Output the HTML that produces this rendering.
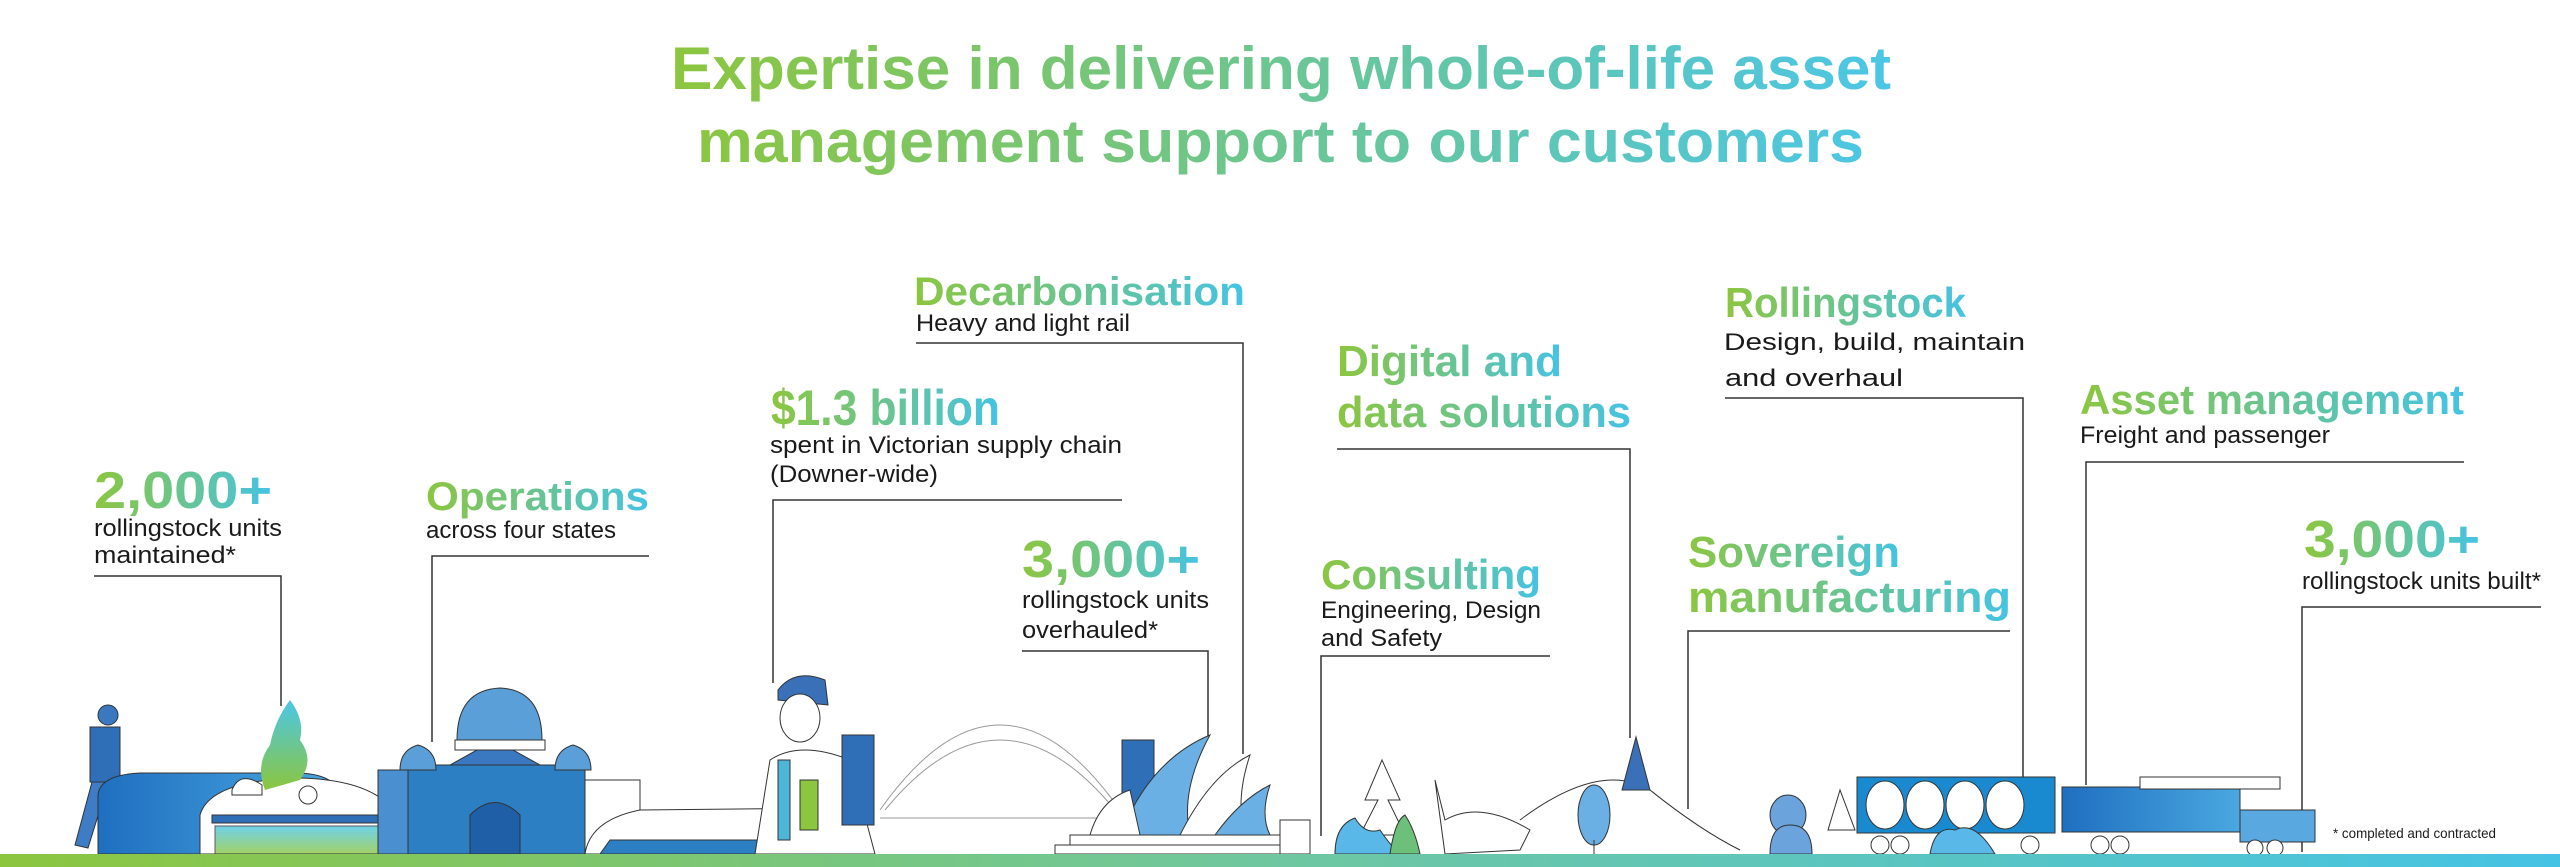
<!DOCTYPE html>
<html><head><meta charset="utf-8"><style>
html,body{margin:0;padding:0;background:#fff;}
svg{display:block;}
text{font-family:"Liberation Sans",sans-serif;}
.h{font-weight:bold;fill:url(#g);}
.s{font-size:24px;fill:#1a1a1a;}
</style></head><body>
<svg width="2560" height="867" viewBox="0 0 2560 867" xmlns="http://www.w3.org/2000/svg">
<defs>
<linearGradient id="g" x1="0" y1="0" x2="1" y2="0" gradientUnits="objectBoundingBox"><stop offset="0" stop-color="#8cc63f"/><stop offset="1" stop-color="#45c3e4"/></linearGradient>
<linearGradient id="t1" x1="671" y1="0" x2="1891" y2="0" gradientUnits="userSpaceOnUse"><stop offset="0" stop-color="#8cc63f"/><stop offset="1" stop-color="#4bc6e6"/></linearGradient>
<linearGradient id="bar" x1="0" y1="0" x2="2560" y2="0" gradientUnits="userSpaceOnUse"><stop offset="0" stop-color="#8cc63f"/><stop offset="0.5" stop-color="#6ec7a0"/><stop offset="1" stop-color="#45c3e4"/></linearGradient>
<linearGradient id="bl" x1="0" y1="0" x2="1" y2="0"><stop offset="0" stop-color="#1f6fc0"/><stop offset="1" stop-color="#4aa8e0"/></linearGradient>
<linearGradient id="tr" x1="0" y1="0" x2="0" y2="1"><stop offset="0" stop-color="#4bc6e6"/><stop offset="1" stop-color="#8cc63f"/></linearGradient>
</defs>

<!-- title -->
<text x="671" y="89" font-size="60" font-weight="bold" fill="url(#t1)" textLength="1220" lengthAdjust="spacingAndGlyphs">Expertise in delivering whole-of-life asset</text>
<text x="697" y="162" font-size="60" font-weight="bold" fill="url(#t1)" textLength="1167" lengthAdjust="spacingAndGlyphs">management support to our customers</text>

<!-- connector lines -->
<g stroke="#333" stroke-width="1.5" fill="none">
<polyline points="94,576 281,576 281,706"/>
<polyline points="649,556 432,556 432,742"/>
<polyline points="916,343 1243,343 1243,754"/>
<polyline points="1122,500 773,500 773,683"/>
<polyline points="1022,651 1208,651 1208,738"/>
<polyline points="1337,449 1630,449 1630,738"/>
<polyline points="1725,398 2023,398 2023,777"/>
<polyline points="2464,462 2086,462 2086,785"/>
<polyline points="2541,607 2302,607 2302,852"/>
<polyline points="1550,656 1321,656 1321,836"/>
<polyline points="2010,631 1688,631 1688,809"/>
</g>

<!-- headings -->
<text class="h" x="94" y="508" font-size="52" textLength="178" lengthAdjust="spacingAndGlyphs">2,000+</text>
<text class="h" x="426" y="510" font-size="40" textLength="223" lengthAdjust="spacingAndGlyphs">Operations</text>
<text class="h" x="914" y="305" font-size="40" textLength="331" lengthAdjust="spacingAndGlyphs">Decarbonisation</text>
<text class="h" x="771" y="425" font-size="50" textLength="229" lengthAdjust="spacingAndGlyphs">$1.3 billion</text>
<text class="h" x="1022" y="577" font-size="52" textLength="178" lengthAdjust="spacingAndGlyphs">3,000+</text>
<text class="h" x="1337" y="376" font-size="44" textLength="225" lengthAdjust="spacingAndGlyphs">Digital and</text>
<text class="h" x="1337" y="427" font-size="44" textLength="294" lengthAdjust="spacingAndGlyphs">data solutions</text>
<text class="h" x="1725" y="317" font-size="42" textLength="241" lengthAdjust="spacingAndGlyphs">Rollingstock</text>
<text class="h" x="2080" y="414" font-size="42" textLength="384" lengthAdjust="spacingAndGlyphs">Asset management</text>
<text class="h" x="2304" y="557" font-size="52" textLength="176" lengthAdjust="spacingAndGlyphs">3,000+</text>
<text class="h" x="1321" y="589" font-size="42" textLength="220" lengthAdjust="spacingAndGlyphs">Consulting</text>
<text class="h" x="1688" y="567" font-size="44" textLength="212" lengthAdjust="spacingAndGlyphs">Sovereign</text>
<text class="h" x="1688" y="612" font-size="44" textLength="323" lengthAdjust="spacingAndGlyphs">manufacturing</text>

<!-- subtexts -->
<text class="s" x="94" y="536" textLength="188" lengthAdjust="spacingAndGlyphs">rollingstock units</text>
<text class="s" x="94" y="563" textLength="142" lengthAdjust="spacingAndGlyphs">maintained*</text>
<text class="s" x="426" y="538" textLength="190" lengthAdjust="spacingAndGlyphs">across four states</text>
<text class="s" x="916" y="331" textLength="214" lengthAdjust="spacingAndGlyphs">Heavy and light rail</text>
<text class="s" x="770" y="453" textLength="352" lengthAdjust="spacingAndGlyphs">spent in Victorian supply chain</text>
<text class="s" x="770" y="482" textLength="168" lengthAdjust="spacingAndGlyphs">(Downer-wide)</text>
<text class="s" x="1022" y="608" textLength="187" lengthAdjust="spacingAndGlyphs">rollingstock units</text>
<text class="s" x="1022" y="638" textLength="136" lengthAdjust="spacingAndGlyphs">overhauled*</text>
<text class="s" x="1724" y="350" textLength="301" lengthAdjust="spacingAndGlyphs">Design, build, maintain</text>
<text class="s" x="1725" y="386" textLength="178" lengthAdjust="spacingAndGlyphs">and overhaul</text>
<text class="s" x="2080" y="443" textLength="250" lengthAdjust="spacingAndGlyphs">Freight and passenger</text>
<text class="s" x="2302" y="589" textLength="239" lengthAdjust="spacingAndGlyphs">rollingstock units built*</text>
<text class="s" x="1321" y="618" textLength="220" lengthAdjust="spacingAndGlyphs">Engineering, Design</text>
<text class="s" x="1321" y="646" textLength="121" lengthAdjust="spacingAndGlyphs">and Safety</text>
<text x="2333" y="838" font-size="14" fill="#1a1a1a" textLength="163" lengthAdjust="spacingAndGlyphs">* completed and contracted</text>

<!-- illustrations (approximate) -->
<g stroke="#333" stroke-width="1">
<!-- man -->
<circle cx="108" cy="715" r="10" fill="#3a78c0"/>
<rect x="90" y="727" width="30" height="55" fill="#2f6fb8"/>
<path d="M92 782 L75 845 L88 848 L106 790 L118 848 L132 845 L120 782 Z" fill="#3e7cc6"/>
<!-- station tunnel train -->
<path d="M98 854 L98 795 Q100 775 140 773 L300 773 Q340 775 340 800 L340 854 Z" fill="url(#bl)"/>
<path d="M200 854 L200 815 Q210 780 300 778 Q380 780 400 820 L405 854 Z" fill="#fff"/>
<rect x="212" y="815" width="180" height="8" fill="#2f6fb8"/>
<path d="M215 826 L390 826 L400 854 L215 854 Z" fill="url(#tr)" opacity="0.8"/>
<circle cx="308" cy="795" r="9" fill="#fff"/>
<!-- tree -->
<path d="M290 700 Q305 720 300 740 Q315 760 300 780 L265 790 Q255 765 270 745 Q275 720 290 700 Z" fill="url(#tr)" stroke="none"/>
<path d="M232 790 Q240 770 262 785 L262 795 L232 795 Z" fill="#fff"/>
<!-- station building -->
<rect x="405" y="765" width="180" height="89" fill="#2d7fc4"/>
<path d="M450 765 L495 740 L540 765 Z" fill="#3a78c0"/>
<path d="M457 740 Q457 690 500 688 Q542 690 542 740 Z" fill="#5a9fd8"/>
<rect x="455" y="740" width="90" height="10" fill="#fff"/>
<rect x="378" y="770" width="30" height="84" fill="#4a90d0"/>
<rect x="585" y="780" width="55" height="74" fill="#fff"/>
<path d="M400 770 Q400 750 418 745 Q436 750 436 770 Z" fill="#5a9fd8"/>
<path d="M555 770 Q555 750 573 745 Q591 750 591 770 Z" fill="#5a9fd8"/>
<path d="M470 854 L470 815 Q495 790 520 815 L520 854 Z" fill="#1e5fa8"/>
<!-- tram -->
<path d="M585 854 Q590 820 640 810 L830 808 L840 854 Z" fill="#fff"/>
<path d="M610 840 L835 840 L840 854 L600 854 Z" fill="#2d7fc4"/>
<!-- woman -->
<path d="M778 690 Q795 668 825 680 L828 705 L778 700 Z" fill="#3a70b8"/>
<ellipse cx="800" cy="718" rx="20" ry="24" fill="#fff"/>
<path d="M770 760 Q800 740 850 760 L875 854 L755 854 Z" fill="#fff"/>
<rect x="778" y="760" width="12" height="80" fill="#4bb6d8"/>
<rect x="800" y="780" width="18" height="50" fill="#8cc63f"/>
<!-- bridge -->
<path d="M880 810 Q1000 640 1120 810" fill="none" stroke="#999"/>
<path d="M885 810 Q1000 670 1115 810" fill="none" stroke="#999"/>
<line x1="880" y1="818" x2="1120" y2="818" stroke="#999"/>
<rect x="842" y="735" width="32" height="90" fill="#2f6fb8"/>
<rect x="1122" y="740" width="32" height="90" fill="#2f6fb8"/>
<!-- opera house -->
<path d="M1120 835 Q1150 760 1210 735 Q1180 790 1190 835 Z" fill="#6bb0e4"/>
<path d="M1180 835 Q1210 775 1250 755 Q1235 800 1245 835 Z" fill="#fff"/>
<path d="M1215 835 Q1240 800 1270 785 Q1260 815 1270 835 Z" fill="#6bb0e4"/>
<path d="M1090 835 Q1100 800 1130 790 L1140 835 Z" fill="#fff"/>
<rect x="1070" y="835" width="210" height="10" fill="#fff"/>
<rect x="1055" y="845" width="240" height="9" fill="#fff"/>
<!-- right side -->
<rect x="1280" y="820" width="30" height="34" fill="#fff"/>
<path d="M1382 760 L1365 800 L1378 800 L1360 835 L1405 835 L1388 800 L1400 800 Z" fill="#fff"/>
<path d="M1335 854 Q1335 825 1355 818 Q1365 835 1380 830 Q1390 845 1400 854 Z" fill="#5ab8e8"/>
<path d="M1390 854 Q1395 820 1405 815 Q1415 830 1420 854 Z" fill="#6cc07a"/>
<path d="M1435 780 L1445 820 Q1480 800 1530 830 L1520 850 L1445 854 Z" fill="#fff"/>
<path d="M1520 820 Q1600 760 1650 790 Q1700 830 1740 850" fill="none"/>
<ellipse cx="1594" cy="815" rx="16" ry="30" fill="#6bb0e4"/>
<line x1="1594" y1="840" x2="1594" y2="854"/>
<path d="M1636 737 L1622 790 L1650 790 Z" fill="#3a70b8"/>
<ellipse cx="1788" cy="815" rx="18" ry="20" fill="#6ba4dc"/>
<path d="M1770 854 Q1770 825 1790 825 Q1812 825 1812 854 Z" fill="#6ba4dc"/>
<path d="M1840 790 L1828 830 L1855 830 Z" fill="#fff"/>
<rect x="1857" y="777" width="198" height="56" fill="#1a8ad0"/>
<ellipse cx="1885" cy="805" rx="19" ry="24" fill="#fff"/>
<ellipse cx="1925" cy="805" rx="19" ry="24" fill="#fff"/>
<ellipse cx="1965" cy="805" rx="19" ry="24" fill="#fff"/>
<ellipse cx="2005" cy="805" rx="19" ry="24" fill="#fff"/>
<path d="M1930 854 Q1935 825 1955 830 Q1975 820 1995 854 Z" fill="#5ab8e8"/>
<rect x="2062" y="787" width="178" height="45" fill="url(#bl)"/>
<rect x="2240" y="810" width="75" height="32" fill="#5aa8e0"/>
<rect x="2140" y="777" width="140" height="12" fill="#fff"/>
<circle cx="1880" cy="845" r="9" fill="#fff"/><circle cx="1900" cy="845" r="9" fill="#fff"/>
<circle cx="2030" cy="845" r="9" fill="#fff"/><circle cx="2100" cy="845" r="9" fill="#fff"/><circle cx="2120" cy="845" r="9" fill="#fff"/>
<circle cx="2255" cy="848" r="8" fill="#fff"/><circle cx="2275" cy="848" r="8" fill="#fff"/>
</g>

<!-- bottom bar -->
<rect x="0" y="854" width="2560" height="13" fill="url(#bar)"/>
</svg>
</body></html>
